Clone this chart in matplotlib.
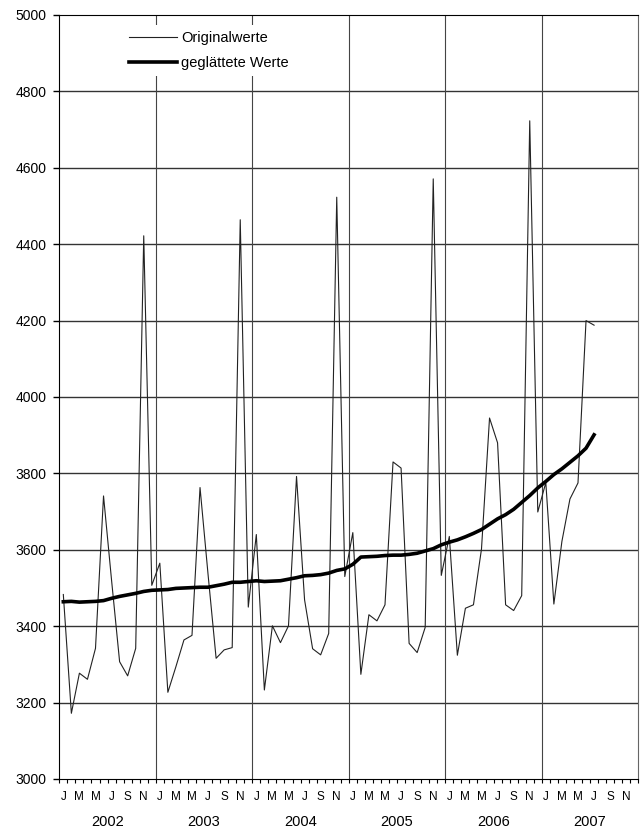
import numpy as np
import matplotlib
matplotlib.use("Agg")
import matplotlib.pyplot as plt
from matplotlib.ticker import FixedLocator, NullFormatter

plt.rcParams['font.family'] = ['Liberation Sans', 'DejaVu Sans']

# Monatswerte Jan 2002 - Jul 2007
original = [
    3483, 3172, 3277, 3261, 3342, 3741, 3520, 3307, 3270, 3342, 4422, 3507,
    3565, 3227, 3294, 3364, 3376, 3763, 3535, 3316, 3338, 3344, 4464, 3450,
    3640, 3233, 3401, 3357, 3401, 3792, 3469, 3341, 3325, 3381, 4523, 3530,
    3645, 3274, 3430, 3414, 3456, 3830, 3814, 3355, 3331, 3397, 4571, 3533,
    3635, 3324, 3447, 3456, 3602, 3945, 3880, 3456, 3441, 3480, 4723, 3699,
    3776, 3458, 3622, 3733, 3775, 4200, 4188,
]
smoothed = [
    3464, 3465, 3463, 3464, 3465, 3467, 3473, 3478, 3482, 3486, 3491, 3494,
    3495, 3496, 3499, 3500, 3501, 3502, 3502, 3506, 3510, 3515, 3515, 3517,
    3519, 3517, 3518, 3519, 3523, 3527, 3532, 3533, 3535, 3539, 3546, 3550,
    3562, 3581, 3582, 3583, 3585, 3586, 3586, 3588, 3591, 3597, 3603, 3613,
    3620, 3626, 3634, 3643, 3653, 3667, 3681, 3692, 3706, 3724, 3742, 3762,
    3779, 3797, 3812, 3829, 3846, 3866, 3901,
]
years = ['2002', '2003', '2004', '2005', '2006', '2007']
month_labels = ['J', 'M', 'M', 'J', 'S', 'N']

n_months = 12 * len(years)
x = np.arange(len(original)) + 0.5

fig = plt.figure(figsize=(6.42, 8.33), dpi=100)
ax = fig.add_axes([59.3 / 642, 1 - 779 / 833, 579 / 642, 764 / 833])

# grid
for yv in range(3200, 5000, 200):
    ax.axhline(yv, color='#333333', lw=1.0, zorder=1)
for k in range(1, len(years)):
    ax.axvline(12 * k, color='#444444', lw=0.8, zorder=1)

ax.plot(x, original, color='#222222', lw=0.8, label='Originalwerte', zorder=3)
ax.plot(x, smoothed, color='black', lw=2.6, label='geglättete Werte', zorder=4)

ax.set_xlim(0, n_months)
ax.set_ylim(3000, 5000)
ax.set_yticks(np.arange(3000, 5001, 200))
ax.tick_params(axis='y', direction='out', length=4.3, width=1, pad=4.8, labelsize=10)

# month ticks at boundaries, labels every other month centre
ax.xaxis.set_minor_locator(FixedLocator(np.arange(0, n_months + 1)))
ax.xaxis.set_minor_formatter(NullFormatter())
centres = np.arange(0, n_months, 2) + 0.5
ax.set_xticks(centres)
ax.set_xticklabels(month_labels * len(years))
ax.tick_params(axis='x', which='major', length=0, pad=9, labelsize=8.5)
ax.tick_params(axis='x', which='minor', direction='out', length=2.9, width=0.8)

for i, yr in enumerate(years):
    ax.text(12 * i + 6, -0.0563, yr, transform=ax.get_xaxis_transform(),
            ha='center', va='center', fontsize=10.5)

for side in ['left', 'bottom', 'top']:
    ax.spines[side].set_color('black')
ax.spines['right'].set_color('#666666')

leg = ax.legend(loc='upper left', bbox_to_anchor=(0.110, 0.987), fontsize=10.5,
                handlelength=3.3, handletextpad=0.27, labelspacing=0.8,
                borderpad=0.4, borderaxespad=0, frameon=True, fancybox=False)
leg.get_frame().set_facecolor('white')
leg.get_frame().set_edgecolor('none')
leg.get_frame().set_alpha(1)
leg.set_zorder(5)

fig.savefig('out.png', dpi=100)
